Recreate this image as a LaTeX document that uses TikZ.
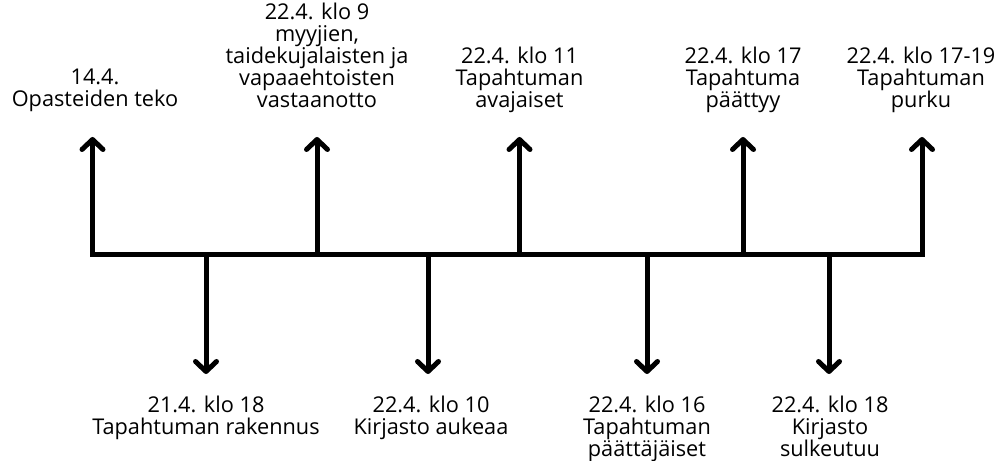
\documentclass[tikz,border=0pt]{standalone}
\usepackage{fontspec}
\setmainfont{Open Sans}
\usetikzlibrary{arrows.meta}
\tikzset{
  bar/.style={line width=5bp, line cap=rect},
  evt/.style={line width=5bp, -{Straight Barb[length=10bp,width=21bp,line cap=round,line join=round]}},
  lbl/.style={align=center, inner sep=0pt, anchor=base, font=\fontsize{21.8}{22.1}\selectfont, text=black}
}
\begin{document}
\begin{tikzpicture}[x=1bp,y=-1bp]
\useasboundingbox (0,0) rectangle (997,461);
% base points on the time line
\coordinate (u1) at (92.5,255);
\coordinate (d1) at (206,255);
\coordinate (u2) at (317,255);
\coordinate (d2) at (428,255);
\coordinate (u3) at (519.5,255);
\coordinate (d3) at (647,255);
\coordinate (u4) at (743,255);
\coordinate (d4) at (829,255);
\coordinate (u5) at (922,255);
% arrow tips
\coordinate (tu1) at (92.5,137);
\coordinate (td1) at (206,374);
\coordinate (tu2) at (317,137);
\coordinate (td2) at (428,374);
\coordinate (tu3) at (519.5,137);
\coordinate (td3) at (647,374);
\coordinate (tu4) at (743,137);
\coordinate (td4) at (829,374);
\coordinate (tu5) at (922,137);
\draw[bar] (u1) -- (u5);
\foreach \a in {u1,d1,u2,d2,u3,d3,u4,d4,u5} {
  \draw[evt] (\a) -- (t\a);
}
% labels above (anchored at the baseline of the last line)
\node[lbl] (l1) at (95,106.5) {14.4.\\Opasteiden teko};
\node[lbl] (l2) at (317,108) {22.4. klo 9\\myyjien,\\taidekujalaisten ja\\vapaaehtoisten\\vastaanotto};
\node[lbl] (l3) at (519.5,108) {22.4. klo 11\\Tapahtuman\\avajaiset};
\node[lbl] (l4) at (743,108) {22.4. klo 17\\Tapahtuma\\päättyy};
\node[lbl] (l5) at (921,108) {22.4. klo 17-19\\Tapahtuman\\purku};
% labels below
\node[lbl] (m1) at (206,434.1) {21.4. klo 18\\Tapahtuman rakennus};
\node[lbl] (m2) at (431,434.1) {22.4. klo 10\\Kirjasto aukeaa};
\node[lbl] (m3) at (647,456.2) {22.4. klo 16\\Tapahtuman\\päättäjäiset};
\node[lbl] (m4) at (830,456.2) {22.4. klo 18\\Kirjasto\\sulkeutuu};
\end{tikzpicture}
\end{document}
